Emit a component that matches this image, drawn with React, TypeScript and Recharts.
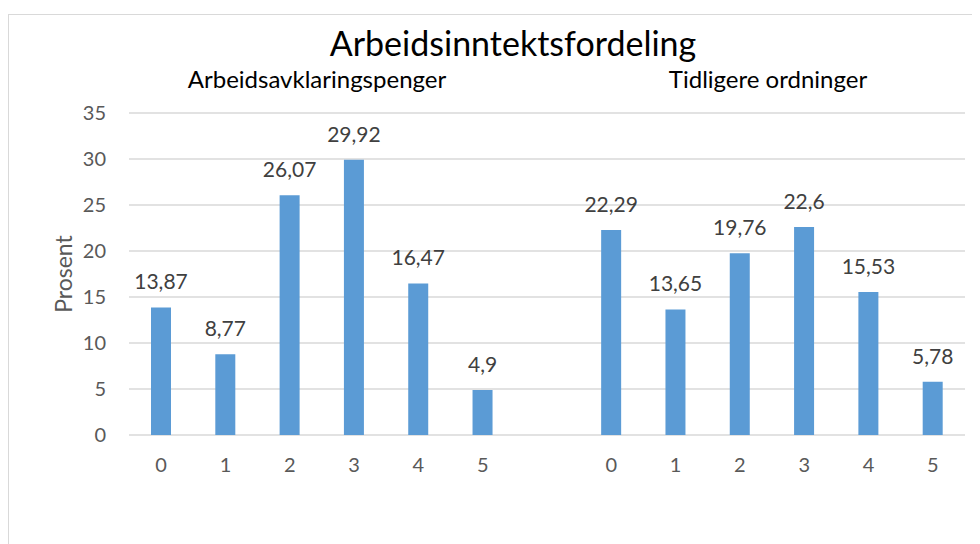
import React from 'react';
import { BarChart, Bar, XAxis, YAxis, CartesianGrid, LabelList } from 'recharts';

const groupTicks = ['0', '1', '2', '3', '4', '5'];
const aapValues = [13.87, 8.77, 26.07, 29.92, 16.47, 4.9];
const earlierValues = [22.29, 13.65, 19.76, 22.6, 15.53, 5.78];
const yTicks = [0, 5, 10, 15, 20, 25, 30, 35];

const title = 'Arbeidsinntektsfordeling';
const groupNames = ['Arbeidsavklaringspenger', 'Tidligere ordninger'];

// one empty slot between the two groups
const data = [
  ...groupTicks.map((t, i) => ({ cat: t, value: aapValues[i] })),
  { cat: '', value: null },
  ...groupTicks.map((t, i) => ({ cat: t, value: earlierValues[i] })),
];

const FONT = 'Lato, "Open Sans", sans-serif';
const fmt = (v: any) => (v == null ? '' : String(v).replace('.', ','));

export default function App() {
  return (
    <div style={{ position: 'relative', width: 972, height: 536, fontFamily: FONT }}>
      <div
        style={{
          position: 'absolute',
          left: 0,
          top: 6,
          width: 972,
          height: 530,
          boxSizing: 'border-box',
          borderTop: '1px solid #d9d9d9',
          borderLeft: '1px solid #d9d9d9',
          background: '#fff',
        }}
      >
        <BarChart
          width={971}
          height={529}
          data={data}
          margin={{ top: 98, right: 15, bottom: 69, left: 0 }}
        >
          <CartesianGrid vertical={false} stroke="#d9d9d9" strokeWidth={1.5} />
          <XAxis
            dataKey="cat"
            height={40}
            axisLine={false}
            tickLine={false}
            tickSize={0}
            tickMargin={23}
            interval={0}
            tick={{ fill: '#595959', fontSize: 20, fontFamily: FONT }}
          />
          <YAxis
            width={120}
            domain={[0, 35]}
            ticks={yTicks}
            axisLine={false}
            tickLine={false}
            tickSize={0}
            tickMargin={23}
            tick={{ fill: '#595959', fontSize: 20, fontFamily: FONT }}
            label={{
              content: ({ viewBox }: any) => {
                const cy = viewBox.y + viewBox.height / 2;
                return (
                  <text
                    x={54}
                    y={cy}
                    transform={`rotate(-90 54 ${cy})`}
                    textAnchor="middle"
                    dominantBaseline="central"
                    fill="#595959"
                    fontSize={23}
                    fontFamily={FONT}
                  >
                    Prosent
                  </text>
                );
              },
            }}
          />
          <Bar dataKey="value" fill="#5b9bd5" barSize={20} isAnimationActive={false}>
            <LabelList
              dataKey="value"
              position="top"
              offset={18}
              formatter={fmt}
              fill="#404040"
              fontSize={21}
              fontFamily={FONT}
            />
          </Bar>
        </BarChart>
      </div>
      <svg
        width={972}
        height={120}
        style={{ position: 'absolute', left: 0, top: 0, pointerEvents: 'none' }}
      >
        <text x={505} y={48} textAnchor="middle" fontSize={34} fill="#000" fontFamily={FONT}>
          {title}
        </text>
        <text x={309} y={80} textAnchor="middle" fontSize={24} fill="#000" fontFamily={FONT}>
          {groupNames[0]}
        </text>
        <text x={760} y={80} textAnchor="middle" fontSize={24} fill="#000" fontFamily={FONT}>
          {groupNames[1]}
        </text>
      </svg>
    </div>
  );
}
